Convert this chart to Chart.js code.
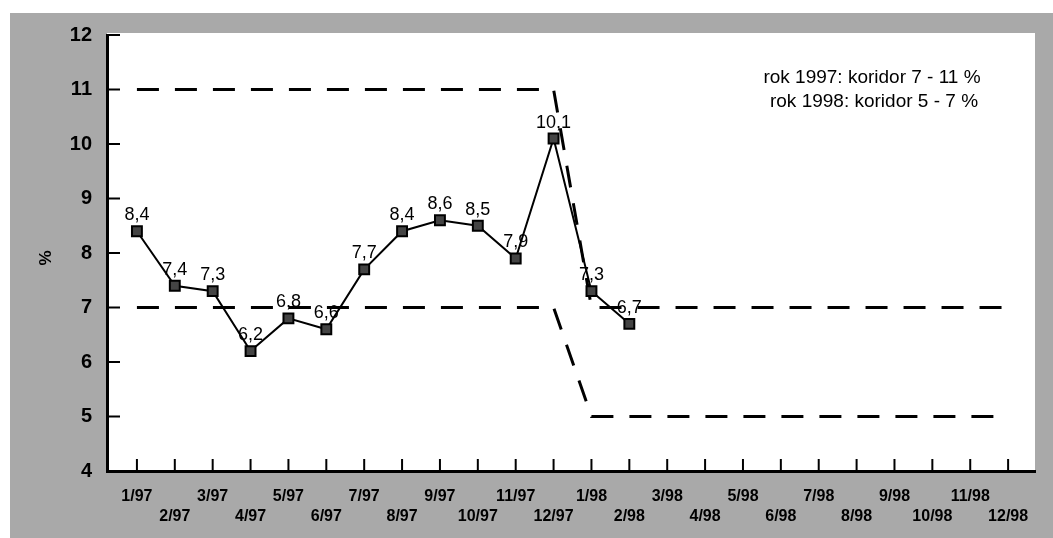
<!DOCTYPE html>
<html>
<head>
<meta charset="utf-8">
<script src="https://cdn.jsdelivr.net/npm/chart.js@4/dist/chart.umd.min.js"></script>
<style>
  html, body { margin: 0; padding: 0; background: #fff; }
  #wrap { width: 1053px; height: 538px; }
</style>
</head>
<body>
<div id="wrap"><canvas id="c"></canvas></div>
<script>
// months on the x axis
const months = ["1/97", "2/97", "3/97", "4/97", "5/97", "6/97", "7/97", "8/97", "9/97", "10/97", "11/97", "12/97",
  "1/98", "2/98", "3/98", "4/98", "5/98", "6/98", "7/98", "8/98", "9/98", "10/98", "11/98", "12/98"];

// inflation values (only up to 2/98)
const inflation = [8.4, 7.4, 7.3, 6.2, 6.8, 6.6, 7.7, 8.4, 8.6, 8.5, 7.9, 10.1, 7.3, 6.7];

// corridor bounds
const upperBound = [11, 11, 11, 11, 11, 11, 11, 11, 11, 11, 11, 11, 7, 7, 7, 7, 7, 7, 7, 7, 7, 7, 7, 7];
const lowerBound = [7, 7, 7, 7, 7, 7, 7, 7, 7, 7, 7, 7, 5, 5, 5, 5, 5, 5, 5, 5, 5, 5, 5, 5];

const yTicks = [4, 5, 6, 7, 8, 9, 10, 11, 12];
const noteLines = ["rok 1997: koridor 7 - 11 %", "rok 1998: koridor 5 - 7 %"];

const toPoints = arr => arr.map((v, i) => ({ x: i, y: v }));

// gray page, white plot box
const backdrop = {
  id: "backdrop",
  beforeDraw(chart) {
    const ctx = chart.ctx;
    const a = chart.chartArea;
    ctx.save();
    ctx.fillStyle = "#fff";
    ctx.fillRect(0, 0, chart.width, chart.height);
    ctx.fillStyle = "#a9a9a9";
    ctx.fillRect(10, 13, chart.width - 10, chart.height - 13);
    ctx.fillStyle = "#fff";
    ctx.fillRect(a.left, a.top - 2, a.right - a.left, a.bottom - a.top + 2);
    ctx.restore();
  }
};

// inner ticks, labels, notes
const extras = {
  id: "extras",
  afterDraw(chart) {
    const ctx = chart.ctx;
    const a = chart.chartArea;
    const xs = chart.scales.x, ys = chart.scales.y;
    ctx.save();
    ctx.strokeStyle = "#000";
    ctx.lineWidth = 2;
    yTicks.forEach(v => {
      const y = ys.getPixelForValue(v);
      ctx.beginPath();
      ctx.moveTo(a.left, y);
      ctx.lineTo(a.left + 13, y);
      ctx.stroke();
    });
    months.forEach((m, i) => {
      const x = xs.getPixelForValue(i);
      ctx.beginPath();
      ctx.moveTo(x, a.bottom);
      ctx.lineTo(x, a.bottom - 12);
      ctx.stroke();
    });

    // value labels
    ctx.fillStyle = "#000";
    ctx.font = "18px Arial, 'Liberation Sans', sans-serif";
    ctx.textAlign = "center";
    ctx.textBaseline = "alphabetic";
    const meta = chart.getDatasetMeta(0);
    meta.data.forEach((pt, i) => {
      ctx.fillText(String(inflation[i]).replace(".", ","), pt.x, pt.y - 11);
    });

    // note
    ctx.font = "19px Arial, 'Liberation Sans', sans-serif";
    ctx.textBaseline = "middle";
    ctx.fillText(noteLines[0], 872, 78);
    ctx.fillText(noteLines[1], 874, 102);

    // y title
    ctx.translate(46, 258);
    ctx.rotate(-Math.PI / 2);
    ctx.font = "bold 17px Arial, 'Liberation Sans', sans-serif";
    ctx.fillText("%", 0, 0);
    ctx.restore();
  }
};

new Chart(document.getElementById("c"), {
  type: "line",
  data: {
    datasets: [
      {
        data: toPoints(inflation),
        borderColor: "#000",
        borderWidth: 2,
        pointStyle: "rect",
        pointRadius: 7,
        pointBackgroundColor: "#444",
        pointBorderColor: "#000",
        pointBorderWidth: 2,
        tension: 0
      },
      {
        data: toPoints(upperBound),
        borderColor: "#000",
        borderWidth: 3,
        borderDash: [22, 16],
        pointRadius: 0,
        tension: 0
      },
      {
        data: toPoints(lowerBound),
        borderColor: "#000",
        borderWidth: 3,
        borderDash: [22, 16],
        pointRadius: 0,
        tension: 0
      }
    ]
  },
  options: {
    responsive: true,
    maintainAspectRatio: false,
    animation: false,
    layout: { padding: { left: 0, top: 35, right: 18, bottom: 0 } },
    plugins: { legend: { display: false }, tooltip: { enabled: false } },
    scales: {
      x: {
        type: "linear",
        min: -0.79,
        max: 23.71,
        grid: { display: false, drawTicks: false },
        border: { color: "#000", width: 3 },
        afterBuildTicks: s => { s.ticks = months.map((m, i) => ({ value: i })); },
        afterFit: s => { s.height = 67; },
        ticks: {
          autoSkip: false,
          maxRotation: 0,
          padding: 16,
          color: "#000",
          font: { family: "Arial, 'Liberation Sans', sans-serif", size: 16, weight: "bold", lineHeight: "20px" },
          callback: v => (v % 2 === 0 ? months[v] : ["", months[v]])
        }
      },
      y: {
        min: 4,
        max: 12,
        grid: { display: false, drawTicks: false },
        border: { color: "#000", width: 3 },
        afterBuildTicks: s => { s.ticks = yTicks.map(v => ({ value: v })); },
        afterFit: s => { s.width = 107; },
        ticks: {
          padding: 15,
          color: "#000",
          font: { family: "Arial, 'Liberation Sans', sans-serif", size: 20, weight: "bold" }
        }
      }
    }
  },
  plugins: [backdrop, extras]
});
</script>
</body>
</html>
